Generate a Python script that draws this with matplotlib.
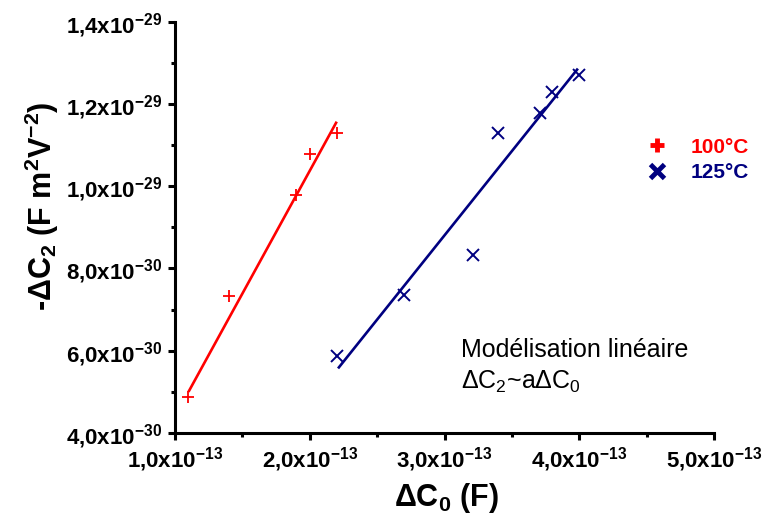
import numpy as np
import matplotlib
matplotlib.use('Agg')
import matplotlib.pyplot as plt
from matplotlib.lines import Line2D
from matplotlib.ticker import MultipleLocator, FixedLocator

plt.rcParams['font.family'] = ['Liberation Sans', 'DejaVu Sans']
plt.rcParams['mathtext.default'] = 'regular'

# data
dc0_100 = [1.10e-13, 1.40e-13, 1.90e-13, 2.00e-13, 2.20e-13]
dc2_100 = [4.88e-30, 7.33e-30, 9.78e-30, 1.078e-29, 1.130e-29]
dc0_125 = [2.20e-13, 2.70e-13, 3.21e-13, 3.40e-13, 3.71e-13, 3.80e-13, 4.00e-13]
dc2_125 = [5.87e-30, 7.35e-30, 8.33e-30, 1.130e-29, 1.178e-29, 1.229e-29, 1.270e-29]

# linear fits (end points as drawn)
fit_x_100 = [1.10e-13, 2.20e-13]
fit_y_100 = [5.00e-30, 1.157e-29]
fit_x_125 = [2.21e-13, 3.99e-13]
fit_y_125 = [5.57e-30, 1.286e-29]

xticks = [1e-13, 2e-13, 3e-13, 4e-13, 5e-13]
xlabels = ['1,0x10$^{-13}$', '2,0x10$^{-13}$', '3,0x10$^{-13}$', '4,0x10$^{-13}$', '5,0x10$^{-13}$']
yticks = [4e-30, 6e-30, 8e-30, 1.0e-29, 1.2e-29, 1.4e-29]
ylabels = ['4,0x10$^{-30}$', '6,0x10$^{-30}$', '8,0x10$^{-30}$', '1,0x10$^{-29}$', '1,2x10$^{-29}$', '1,4x10$^{-29}$']

red = '#ff0000'
navy = '#000080'

fig = plt.figure(figsize=(7.63, 5.25), dpi=100)
ax = fig.add_axes([175/763, 1-433/525, (714-175)/763, (433-21.7)/525])

ax.plot(fit_x_100, fit_y_100, color=red, lw=1.9, solid_capstyle='butt')
ax.plot(fit_x_125, fit_y_125, color=navy, lw=1.9, solid_capstyle='butt')
ax.plot(dc0_100, dc2_100, ls='none', marker='+', ms=8, mew=1.3, color=red)
ax.plot(dc0_125, dc2_125, ls='none', marker='x', ms=9, mew=1.4, color=navy)

ax.set_xlim(1e-13, 5e-13)
ax.set_ylim(4e-30, 1.4e-29)
ax.set_xticks(xticks)
ax.set_xticklabels(xlabels)
ax.set_yticks(yticks)
ax.set_yticklabels(ylabels)
ax.xaxis.set_minor_locator(FixedLocator([1.5e-13, 2.5e-13, 3.5e-13, 4.5e-13]))
ax.yaxis.set_minor_locator(FixedLocator([5e-30, 7e-30, 9e-30, 1.1e-29, 1.3e-29]))

for s in ['top', 'right']:
    ax.spines[s].set_visible(False)
for s in ['left', 'bottom']:
    ax.spines[s].set_linewidth(2.2)
ax.tick_params(which='major', direction='out', length=5, width=2.2, labelsize=16, pad=4)
ax.tick_params(which='minor', direction='out', length=3, width=2.2)
for lab in ax.get_xticklabels() + ax.get_yticklabels():
    lab.set_fontweight('bold')

ax.set_xlabel(r'$\Delta$C$_0$ (F)', fontsize=22, fontweight='bold', va='center')
ax.xaxis.set_label_coords(0.504, -0.158)
ax.set_ylabel(r'-$\Delta$C$_2$ (F m$^2$V$^{-2}$)', fontsize=22, fontweight='bold', va='center')
ax.yaxis.set_label_coords(-0.247, 0.552)

handles = [Line2D([], [], ls='none', marker='+', ms=10, mew=3.5, color=red),
           Line2D([], [], ls='none', marker='x', ms=10, mew=3.5, color=navy)]
leg = ax.legend(handles, ['100°C', '125°C'], loc='center left',
                bbox_to_anchor=((647-175)/539, 0.664), frameon=False,
                prop={'size': 15, 'weight': 'bold'}, handlelength=1.0,
                handletextpad=1.1, labelspacing=0.3, borderpad=0, borderaxespad=0)
for t, c in zip(leg.get_texts(), [red, navy]):
    t.set_color(c)

ax.text(0.530, 0.2018, 'Modélisation linéaire', transform=ax.transAxes,
        fontsize=18, va='center', ha='left')
ax.text(0.530, 0.1247, r'$\Delta$C$_2$~a$\Delta$C$_0$', transform=ax.transAxes,
        fontsize=18, va='center', ha='left')

fig.savefig('out.png', dpi=100)
